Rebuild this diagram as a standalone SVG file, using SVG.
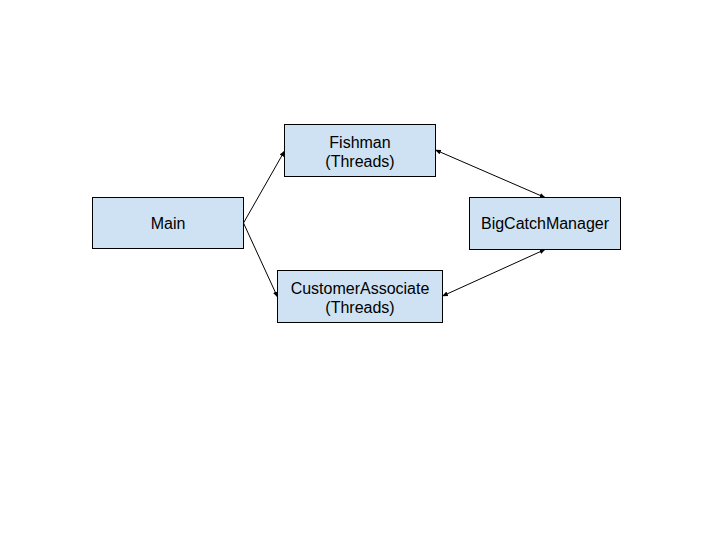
<svg xmlns="http://www.w3.org/2000/svg" width="720" height="540" viewBox="0 0 720 540">
<style>
.box{fill:#cfe2f3;stroke:#000;stroke-width:1}
.t{font-family:"Liberation Sans",Arial,sans-serif;font-size:16px;fill:#000;text-anchor:middle}
.c{stroke:#000;stroke-width:1;fill:none}
</style>
<defs>
<marker id="ah" viewBox="0 0 10 10" refX="9" refY="5" markerWidth="6" markerHeight="6" orient="auto-start-reverse" markerUnits="userSpaceOnUse">
<path d="M0,1 L10,5 L0,9 z" fill="#000"/>
</marker>
</defs>
<rect width="720" height="540" fill="#fff"/>
<g id="connectors">
<line class="c" x1="243.5" y1="223" x2="284.5" y2="151" marker-end="url(#ah)"/>
<line class="c" x1="243.5" y1="223" x2="277.5" y2="297" marker-end="url(#ah)"/>
<line class="c" x1="435.5" y1="150" x2="545" y2="197.5" marker-start="url(#ah)" marker-end="url(#ah)"/>
<line class="c" x1="442.5" y1="296" x2="545" y2="249.5" marker-start="url(#ah)" marker-end="url(#ah)"/>
</g>
<g id="main">
<rect class="box" x="92.5" y="197.5" width="151" height="51"/>
<text class="t" x="168" y="229">Main</text>
</g>
<g id="fishman">
<rect class="box" x="284.5" y="124.5" width="151" height="52"/>
<text class="t" x="360" y="147.5">Fishman</text>
<text class="t" x="360" y="166.5">(Threads)</text>
</g>
<g id="customerassociate">
<rect class="box" x="277.5" y="270.5" width="165" height="52"/>
<text class="t" x="360" y="293.5">CustomerAssociate</text>
<text class="t" x="360" y="312.5">(Threads)</text>
</g>
<g id="bigcatchmanager">
<rect class="box" x="469.5" y="197.5" width="151" height="52"/>
<text class="t" x="545" y="229">BigCatchManager</text>
</g>
</svg>
